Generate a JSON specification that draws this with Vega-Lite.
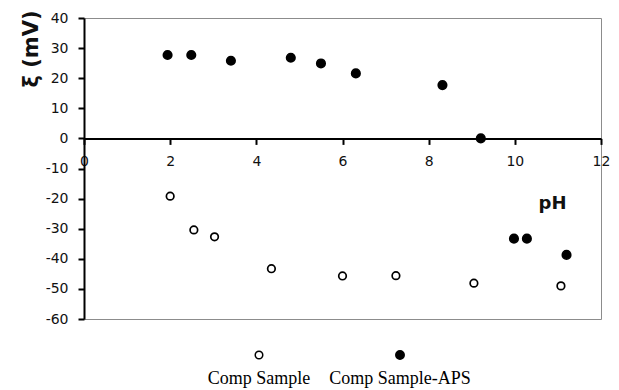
{
  "$schema": "https://vega.github.io/schema/vega-lite/v6.json",
  "background": "white",
  "padding": {"left": 19, "top": 9, "right": 5, "bottom": 0},
  "bounds": "flush",
  "spacing": 21,
  "config": {"view": {"stroke": "#8c8c8c", "strokeWidth": 1}, "font": "DejaVu Sans"},
  "datasets": {
    "points": [
      {"series": "Comp Sample-APS", "pH": 1.94, "zeta": 27.7},
      {"series": "Comp Sample-APS", "pH": 2.49, "zeta": 27.7},
      {"series": "Comp Sample-APS", "pH": 3.41, "zeta": 25.8},
      {"series": "Comp Sample-APS", "pH": 4.80, "zeta": 26.8},
      {"series": "Comp Sample-APS", "pH": 5.50, "zeta": 24.9},
      {"series": "Comp Sample-APS", "pH": 6.31, "zeta": 21.6},
      {"series": "Comp Sample-APS", "pH": 8.32, "zeta": 17.7},
      {"series": "Comp Sample-APS", "pH": 9.21, "zeta": 0},
      {"series": "Comp Sample-APS", "pH": 9.98, "zeta": -33.3},
      {"series": "Comp Sample-APS", "pH": 10.28, "zeta": -33.3},
      {"series": "Comp Sample-APS", "pH": 11.20, "zeta": -38.7},
      {"series": "Comp Sample", "pH": 2.00, "zeta": -19.2},
      {"series": "Comp Sample", "pH": 2.55, "zeta": -30.4},
      {"series": "Comp Sample", "pH": 3.03, "zeta": -32.7},
      {"series": "Comp Sample", "pH": 4.35, "zeta": -43.3},
      {"series": "Comp Sample", "pH": 6.00, "zeta": -45.7},
      {"series": "Comp Sample", "pH": 7.24, "zeta": -45.6},
      {"series": "Comp Sample", "pH": 9.05, "zeta": -48.1},
      {"series": "Comp Sample", "pH": 11.07, "zeta": -49.0}
    ],
    "legend": [
      {"series": "Comp Sample"},
      {"series": "Comp Sample-APS"}
    ]
  },
  "vconcat": [
    {
      "width": 517,
      "height": 301,
      "data": {"name": "points"},
      "mark": {"type": "circle", "stroke": "black", "strokeWidth": 1.7, "opacity": 1},
      "encoding": {
        "x": {
          "field": "pH", "type": "quantitative",
          "scale": {"domain": [0, 12], "nice": false},
          "axis": {
            "values": [0, 2, 4, 6, 8, 10, 12],
            "offset": -180.6,
            "grid": false,
            "labelFlush": false,
            "domainColor": "black", "domainWidth": 2,
            "tickColor": "black", "tickWidth": 2, "tickSize": 6,
            "labelPadding": 10, "labelFont": "DejaVu Sans", "labelFontSize": 14, "labelColor": "#111",
            "title": "pH", "titleX": 468, "titleY": 65,
            "titleAlign": "center", "titleBaseline": "middle",
            "titleFont": "DejaVu Sans", "titleFontSize": 18, "titleFontWeight": "bold", "titleColor": "#111"
          }
        },
        "y": {
          "field": "zeta", "type": "quantitative",
          "scale": {"domain": [-60, 40], "nice": false, "zero": false},
          "axis": {
            "values": [-60, -50, -40, -30, -20, -10, 0, 10, 20, 30, 40],
            "labelExpr": "replace(datum.label, '\u2212', '-')",
            "grid": false,
            "domainColor": "black", "domainWidth": 2,
            "tickColor": "black", "tickWidth": 2, "tickSize": 6,
            "labelPadding": 10, "labelFont": "DejaVu Sans", "labelFontSize": 14, "labelColor": "#111",
            "title": "ξ (mV)",
            "titleFont": "DejaVu Sans", "titleFontSize": 21, "titleFontWeight": "bold", "titleColor": "#111",
            "titleAngle": -90, "titleAlign": "right", "titleBaseline": "middle",
            "titleX": -53, "titleY": -8
          }
        },
        "fill": {
          "field": "series", "type": "nominal",
          "scale": {"domain": ["Comp Sample", "Comp Sample-APS"], "range": ["white", "black"]},
          "legend": null
        },
        "size": {
          "field": "series", "type": "ordinal",
          "scale": {"domain": ["Comp Sample", "Comp Sample-APS"], "range": [57, 71]},
          "legend": null
        }
      }
    },
    {
      "width": 491,
      "height": 30,
      "data": {"name": "legend"},
      "view": {"stroke": null},
      "layer": [
        {
          "mark": {"type": "circle", "stroke": "black", "strokeWidth": 1.5, "opacity": 1},
          "encoding": {
            "x": {"field": "series", "type": "nominal", "sort": null, "scale": {"type": "point", "range": [175, 316], "padding": 0}, "axis": null},
            "fill": {
              "field": "series", "type": "nominal",
              "scale": {"domain": ["Comp Sample", "Comp Sample-APS"], "range": ["white", "black"]},
              "legend": null
            },
            "size": {
              "field": "series", "type": "ordinal",
              "scale": {"domain": ["Comp Sample", "Comp Sample-APS"], "range": [24, 36]},
              "legend": null
            }
          }
        },
        {
          "mark": {"type": "text", "font": "Liberation Serif", "fontSize": 18, "dy": 29, "baseline": "alphabetic", "color": "black"},
          "encoding": {
            "x": {"field": "series", "type": "nominal", "sort": null, "scale": {"type": "point", "range": [175, 316], "padding": 0}, "axis": null},
            "text": {"field": "series"}
          }
        }
      ]
    }
  ]
}
